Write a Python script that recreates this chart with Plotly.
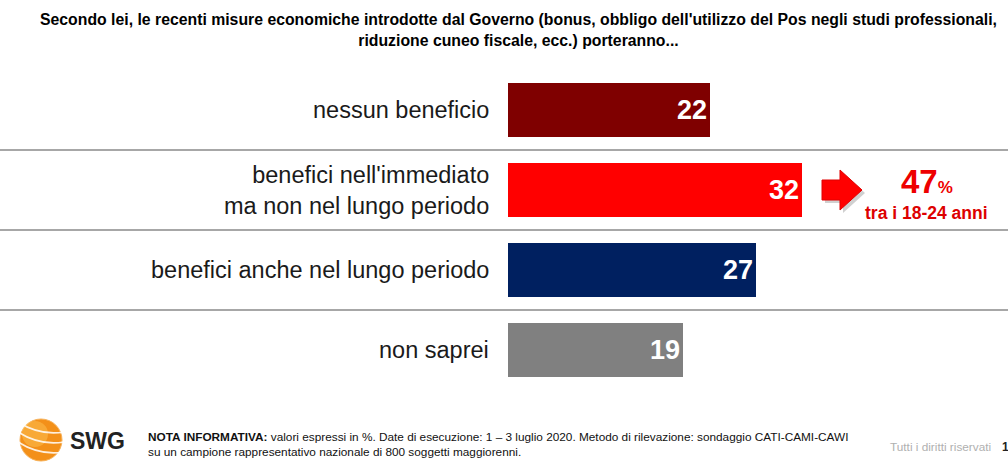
import plotly.graph_objects as go

categories = ["nessun beneficio",
              "benefici nell'immediato<br>ma non nel lungo periodo",
              "benefici anche nel lungo periodo",
              "non saprei"]
values = [22, 32, 27, 19]
bar_colors = ["#7f0000", "#ff0000", "#002060", "#808080"]
highlight_value = 47
highlight_label = "tra i 18-24 anni"

W, H = 1008, 473
x0_px, x1_px = 508, 968
y_top_px, y_bot_px = 70, 390

ypos = list(range(len(categories)))
FONT = "Liberation Sans, Arial"

fig = go.Figure()
fig.add_trace(go.Bar(
    x=values, y=ypos, orientation="h",
    marker=dict(color=bar_colors, line=dict(width=0)),
    width=0.68,
    text=[str(v) for v in values],
    textposition="inside", insidetextanchor="end",
    textfont=dict(family=FONT, size=27, color="white", weight="bold"),
    hoverinfo="skip",
))

def px(x): return x / W
def py(y): return 1 - y / H

shapes = []
for i in range(len(categories) - 1):
    shapes.append(dict(type="line", xref="paper", yref="y", x0=0, x1=1,
                       y0=i + 0.5, y1=i + 0.5,
                       line=dict(color="#8a8a8a", width=1.6)))

# decorative arrow next to second bar
arrow_pts = [(822, 180), (840, 180), (840, 170), (862, 190), (840, 210), (840, 200), (822, 200)]
shadow = "M " + " L ".join(f"{px(x+3)},{py(y+3)}" for x, y in arrow_pts) + " Z"
arrow = "M " + " L ".join(f"{px(x)},{py(y)}" for x, y in arrow_pts) + " Z"
shapes.append(dict(type="path", xref="paper", yref="paper", path=shadow,
                   fillcolor="rgba(120,120,120,0.35)", line=dict(width=0)))
shapes.append(dict(type="path", xref="paper", yref="paper", path=arrow,
                   fillcolor="#ff0000", line=dict(color="#e00000", width=1)))

# logo globe
shapes.append(dict(type="circle", xref="paper", yref="paper",
                   x0=px(20), x1=px(62), y0=py(461), y1=py(419),
                   fillcolor="#f39019", line=dict(color="#f7b25a", width=1)))
shapes.append(dict(type="circle", xref="paper", yref="paper",
                   x0=px(22), x1=px(48), y0=py(447), y1=py(421),
                   fillcolor="rgba(255,200,90,0.45)", line=dict(width=0)))
for k in range(3):
    yy = 428 + k * 10
    shapes.append(dict(type="path", xref="paper", yref="paper",
                       path=f"M {px(18)},{py(yy-6)} Q {px(40)},{py(yy+8)} {px(64)},{py(yy+4)}",
                       line=dict(color="rgba(255,255,255,0.85)", width=1.6)))

annotations = []
for i, c in enumerate(categories):
    annotations.append(dict(xref="paper", yref="y", x=491 / W, y=i, text=c,
                            xanchor="right", yanchor="middle", align="right",
                            showarrow=False,
                            font=dict(family=FONT, size=23.5, color="#1a1a1a")))

annotations += [
    dict(xref="paper", yref="paper", x=518 / W, y=py(30), text=
         "<b>Secondo lei, le recenti misure economiche introdotte dal Governo (bonus, obbligo dell'utilizzo del Pos negli studi professionali,<br>riduzione cuneo fiscale, ecc.) porteranno...</b>",
         showarrow=False, xanchor="center", yanchor="middle", align="center",
         font=dict(family=FONT, size=15.8, color="#000000")),
    dict(xref="paper", yref="paper", x=927 / W, y=py(181),
         text=f"<b>{highlight_value}</b><b><span style='font-size:17px'>%</span></b>",
         showarrow=False, xanchor="center", yanchor="middle",
         font=dict(family=FONT, size=33, color="#ee0000")),
    dict(xref="paper", yref="paper", x=926 / W, y=py(213), text=f"<b>{highlight_label}</b>",
         showarrow=False, xanchor="center", yanchor="middle",
         font=dict(family=FONT, size=17.5, color="#dd0000")),
    dict(xref="paper", yref="paper", x=68 / W, y=py(441), text="<b>SWG</b>",
         showarrow=False, xanchor="left", yanchor="middle",
         font=dict(family=FONT, size=23, color="#222222")),
    dict(xref="paper", yref="paper", x=146 / W, y=py(444),
         text="<b>NOTA INFORMATIVA:</b> valori espressi in %. Date di esecuzione: 1 – 3 luglio 2020. Metodo di rilevazione: sondaggio CATI-CAMI-CAWI<br>su un campione rappresentativo nazionale di 800 soggetti maggiorenni.",
         showarrow=False, xanchor="left", yanchor="middle", align="left",
         font=dict(family=FONT, size=11.8, color="#111111")),
    dict(xref="paper", yref="paper", x=888 / W, y=py(447), text="Tutti i diritti riservati",
         showarrow=False, xanchor="left", yanchor="middle",
         font=dict(family=FONT, size=11.8, color="#b0b0b0")),
    dict(xref="paper", yref="paper", x=1000 / W, y=py(447), text="<b>1</b>",
         showarrow=False, xanchor="left", yanchor="middle",
         font=dict(family=FONT, size=12, color="#222222")),
]

fig.update_layout(
    width=W, height=H,
    margin=dict(l=0, r=0, t=0, b=0),
    paper_bgcolor="white", plot_bgcolor="white",
    showlegend=False,
    xaxis=dict(domain=[x0_px / W, x1_px / W], range=[0, 50], visible=False, fixedrange=True),
    yaxis=dict(domain=[1 - y_bot_px / H, 1 - y_top_px / H], range=[3.5, -0.5],
               visible=False, fixedrange=True),
    shapes=shapes, annotations=annotations,
    bargap=0,
)

fig.write_html("out.html", config={"displayModeBar": False},
               post_script="document.body.style.margin='0px';document.body.style.overflow='hidden';")
